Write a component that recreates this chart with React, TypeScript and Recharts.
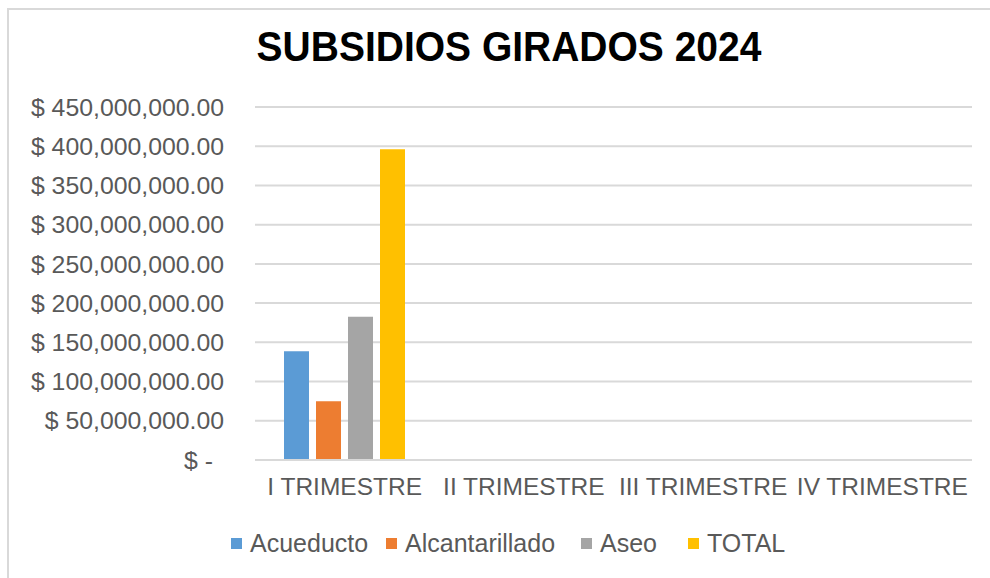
import { Bar, BarChart, CartesianGrid, XAxis, YAxis } from "recharts";

const categories = ["I TRIMESTRE", "II TRIMESTRE", "III TRIMESTRE", "IV TRIMESTRE"];
const acueducto = [138500000, 0, 0, 0];
const alcantarillado = [75000000, 0, 0, 0];
const aseo = [182500000, 0, 0, 0];
const total = [396000000, 0, 0, 0];
const yTicks = [0, 50000000, 100000000, 150000000, 200000000, 250000000, 300000000, 350000000, 400000000, 450000000];

const seriesInfo = [
  { key: "Acueducto", color: "#5b9bd5", slot: 155 },
  { key: "Alcantarillado", color: "#ed7d31", slot: 195 },
  { key: "Aseo", color: "#a5a5a5", slot: 107 },
  { key: "TOTAL", color: "#ffc000", slot: 100 },
];

const data = categories.map((name, i) => ({
  name,
  Acueducto: acueducto[i],
  Alcantarillado: alcantarillado[i],
  Aseo: aseo[i],
  TOTAL: total[i],
}));

const FONT = '"Liberation Sans", Arial, sans-serif';

function formatMoney(v: number) {
  if (v === 0) return "$ -";
  return "$ " + v.toLocaleString("en-US", { minimumFractionDigits: 2, maximumFractionDigits: 2 });
}

function YTick(props: any) {
  const { x, y, payload } = props;
  const v = payload.value;
  return (
    <text
      x={v === 0 ? x - 11 : x}
      y={y}
      dy="0.35em"
      textAnchor="end"
      fill="#595959"
      fontSize={24.8}
      fontFamily={FONT}
    >
      {formatMoney(v)}
    </text>
  );
}

function ChartLegend() {
  return (
    <div
      style={{
        position: "absolute",
        left: 231,
        top: 528,
        display: "flex",
        fontFamily: FONT,
        fontSize: 25,
        lineHeight: "30px",
        color: "#595959",
        whiteSpace: "nowrap",
      }}
    >
      {seriesInfo.map((s) => (
        <div key={s.key} style={{ display: "flex", alignItems: "center", width: s.slot }}>
          <span style={{ width: 11, height: 11, background: s.color, display: "inline-block", marginRight: 8 }} />
          <span>{s.key}</span>
        </div>
      ))}
    </div>
  );
}

export default function App() {
  return (
    <div style={{ position: "absolute", left: 0, top: 0, width: 990, height: 578, background: "#fff", overflow: "hidden" }}>
      <div
        style={{
          position: "absolute",
          left: 7,
          top: 8,
          width: 990,
          height: 578,
          borderLeft: "2px solid #d9d9d9",
          borderTop: "2px solid #d9d9d9",
        }}
      />
      <svg width={990} height={80} style={{ position: "absolute", left: 0, top: 0 }}>
        <text
          x={509}
          y={60}
          textAnchor="middle"
          fontFamily={FONT}
          fontWeight="bold"
          fontSize={39}
          fill="#000"
          transform="translate(0,-5) scale(1,1.1)"
        >
          SUBSIDIOS GIRADOS 2024
        </text>
      </svg>
      <div style={{ position: "absolute", left: 0, top: 0 }}>
        <BarChart
          width={990}
          height={578}
          data={data}
          margin={{ top: 107, right: 18, bottom: 88, left: 0 }}
          barCategoryGap="16%"
          barGap={7}
        >
          <CartesianGrid vertical={false} stroke="#d9d9d9" strokeWidth={2} />
          <XAxis
            dataKey="name"
            height={30}
            tickLine={false}
            axisLine={{ stroke: "#d9d9d9", strokeWidth: 2 }}
            tickSize={0}
            tickMargin={18}
            interval={0}
            tick={{ fill: "#595959", fontSize: 24.5, fontFamily: FONT }}
          />
          <YAxis
            width={255}
            domain={[0, 450000000]}
            ticks={yTicks}
            axisLine={false}
            tickLine={false}
            tickSize={0}
            tickMargin={31}
            tick={<YTick />}
          />
          {seriesInfo.map((s) => (
            <Bar key={s.key} dataKey={s.key} fill={s.color} barSize={25} isAnimationActive={false} />
          ))}
        </BarChart>
      </div>
      <ChartLegend />
    </div>
  );
}
